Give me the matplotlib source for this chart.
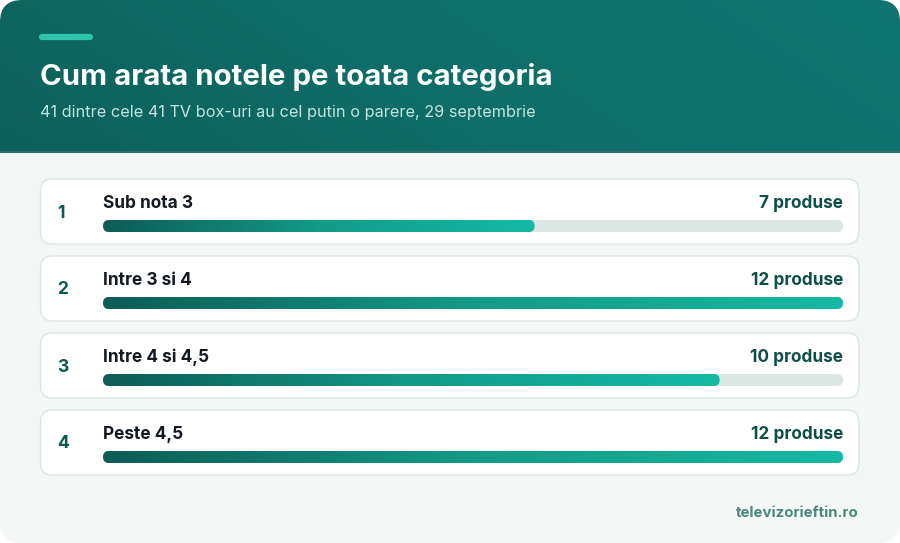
import numpy as np
import matplotlib.pyplot as plt
from matplotlib.patches import FancyBboxPatch
from matplotlib.colors import LinearSegmentedColormap

plt.rcParams['font.family'] = ['Inter', 'DejaVu Sans']

title = 'Cum arata notele pe toata categoria'
subtitle = '41 dintre cele 41 TV box-uri au cel putin o parere, 29 septembrie'
categories = ['Sub nota 3', 'Intre 3 si 4', 'Intre 4 si 4,5', 'Peste 4,5']
counts = [7, 12, 10, 12]
source = 'televizorieftin.ro'

W, H = 900, 543
fig = plt.figure(figsize=(W / 100, H / 100), dpi=100)
ax = fig.add_axes([0, 0, 1, 1])
ax.set_xlim(0, W)
ax.set_ylim(H, 0)
ax.axis('off')

# card background
card = FancyBboxPatch((0, 0), W, H, boxstyle='round,pad=0,rounding_size=22',
                      fc='#f3f8f7', ec='none', zorder=0)
ax.add_patch(card)

# header with soft diagonal gradient
head_cmap = LinearSegmentedColormap.from_list('head', ['#0e605b', '#106e68', '#0f7470'])
gx, gy = np.meshgrid(np.linspace(0, 1, 300), np.linspace(0, 1, 60))
im = ax.imshow(gx * 0.8 + (1 - gy) * 0.2, cmap=head_cmap, extent=(0, W, 151, 0),
               aspect='auto', zorder=1)
im.set_clip_path(card)
ax.plot([0, W], [151.5, 151.5], color='#0b534e', lw=1.2, zorder=2)

ax.plot([42, 90], [36.5, 36.5], color='#2ec4ab', lw=4.5, solid_capstyle='round', zorder=3)
ax.text(40, 77, title, color='white', fontsize=21.2, fontweight='bold',
        va='center', ha='left', zorder=3)
ax.text(40, 112, subtitle, color='#c2e6df', fontsize=11.7, va='center', ha='left', zorder=3)

bar_cmap = LinearSegmentedColormap.from_list('bar', ['#0d5c55', '#139a88', '#16b9a4'])
grad = np.linspace(0, 1, 256).reshape(1, -1)

vmax = max(counts)
x0, x1 = 103, 843
track_w = x1 - x0
for i, (cat, n) in enumerate(zip(categories, counts)):
    top = 179 + i * 77
    box = FancyBboxPatch((40.5, top), 818.5, 65, boxstyle='round,pad=0,rounding_size=12',
                         fc='white', ec='#dbe5e2', lw=1, zorder=2)
    ax.add_patch(box)
    ax.text(57, top + 34, str(i + 1), color='#0d5750', fontsize=12.5, fontweight='bold',
            va='center', ha='left', zorder=3)
    ax.text(x0, top + 24.5, cat, color='#141a22', fontsize=12.4, fontweight='bold',
            va='center', ha='left', zorder=3)
    ax.text(x1, top + 24.5, f'{n} produse', color='#0d4f47', fontsize=12.4, fontweight='bold',
            va='center', ha='right', zorder=3)
    ty = top + 41
    track = FancyBboxPatch((x0, ty), track_w, 12, boxstyle='round,pad=0,rounding_size=6',
                           fc='#dce7e4', ec='none', zorder=3)
    ax.add_patch(track)
    fill_w = track_w * n / vmax
    fill = FancyBboxPatch((x0, ty), fill_w, 12, boxstyle='round,pad=0,rounding_size=6',
                          fc='none', ec='none', zorder=4)
    ax.add_patch(fill)
    bim = ax.imshow(grad, cmap=bar_cmap, extent=(x0, x0 + fill_w, ty + 12, ty),
                    aspect='auto', zorder=4)
    bim.set_clip_path(fill)

ax.text(859, 513, source, color='#4a887c', fontsize=10.8, fontweight='bold',
        va='center', ha='right', zorder=3)

ax.set_xlim(0, W)
ax.set_ylim(H, 0)
fig.savefig('out.png', dpi=100, facecolor='white')
